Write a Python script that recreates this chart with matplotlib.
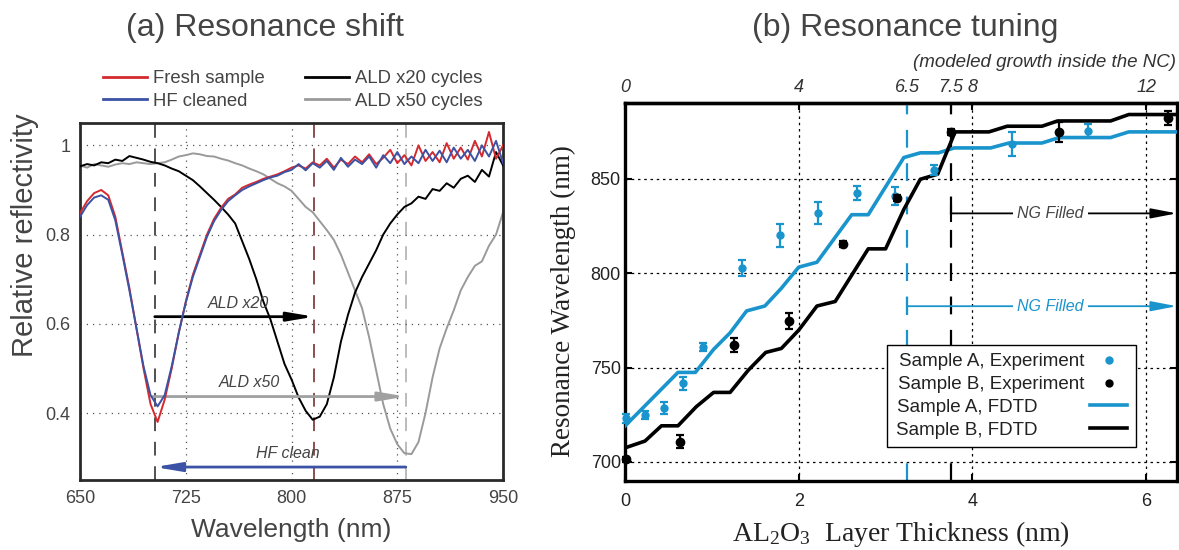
import matplotlib
matplotlib.use('Agg')
import matplotlib.pyplot as plt

plt.rcParams['font.family'] = ['Liberation Sans', 'DejaVu Sans']
plt.rcParams['mathtext.fontset'] = 'custom'
plt.rcParams['mathtext.rm'] = 'Liberation Serif'
plt.rcParams['mathtext.it'] = 'Liberation Serif:italic'

# ---- (a) reflectivity spectra, every 5 nm ----
wl = list(range(650, 951, 5))
fresh = [0.848, 0.875, 0.893, 0.900, 0.888, 0.840, 0.760, 0.680, 0.590, 0.500,
         0.420, 0.380, 0.430, 0.500, 0.580, 0.650, 0.710, 0.755, 0.800, 0.835,
         0.860, 0.880, 0.890, 0.905, 0.912, 0.918, 0.925, 0.930, 0.935, 0.942,
         0.950, 0.955, 0.948, 0.962, 0.955, 0.970, 0.950, 0.968, 0.958, 0.975,
         0.962, 0.980, 0.958, 0.972, 0.990, 0.960, 0.978, 0.955, 1.000, 0.965,
         0.985, 0.962, 1.005, 0.970, 0.995, 0.968, 1.010, 0.975, 1.030, 0.970,
         1.000]
hf_clean = [0.840, 0.866, 0.883, 0.888, 0.878, 0.832, 0.755, 0.675, 0.590, 0.505,
            0.440, 0.415, 0.440, 0.505, 0.580, 0.648, 0.705, 0.750, 0.795, 0.830,
            0.855, 0.875, 0.888, 0.900, 0.908, 0.915, 0.922, 0.928, 0.932, 0.940,
            0.945, 0.958, 0.944, 0.960, 0.950, 0.965, 0.945, 0.972, 0.952, 0.968,
            0.958, 0.975, 0.950, 0.978, 0.960, 0.985, 0.958, 0.975, 0.960, 0.990,
            0.965, 0.988, 0.962, 0.995, 0.970, 0.990, 0.965, 1.000, 0.975, 1.010,
            0.960]
ald20 = [0.953, 0.958, 0.955, 0.962, 0.960, 0.968, 0.965, 0.976, 0.972, 0.968,
         0.963, 0.960, 0.955, 0.948, 0.942, 0.932, 0.922, 0.908, 0.893, 0.878,
         0.862, 0.845, 0.825, 0.785, 0.745, 0.700, 0.650, 0.610, 0.560, 0.510,
         0.475, 0.435, 0.405, 0.385, 0.392, 0.420, 0.480, 0.560, 0.620, 0.670,
         0.705, 0.735, 0.765, 0.800, 0.825, 0.845, 0.862, 0.870, 0.885, 0.880,
         0.902, 0.898, 0.915, 0.905, 0.925, 0.932, 0.918, 0.945, 0.930, 0.985,
         0.955]
ald50 = [0.955, 0.950, 0.958, 0.955, 0.952, 0.957, 0.960, 0.958, 0.962, 0.960,
         0.958, 0.960, 0.962, 0.968, 0.975, 0.978, 0.982, 0.980, 0.976, 0.975,
         0.970, 0.966, 0.960, 0.955, 0.948, 0.942, 0.935, 0.925, 0.915, 0.908,
         0.898, 0.880, 0.862, 0.850, 0.830, 0.810, 0.788, 0.755, 0.715, 0.675,
         0.635, 0.570, 0.495, 0.420, 0.365, 0.330, 0.310, 0.308, 0.335, 0.400,
         0.480, 0.545, 0.590, 0.630, 0.675, 0.705, 0.730, 0.740, 0.775, 0.800,
         0.850]
dips = [703, 816, 881]          # resonance minima: fresh, x20, x50

# ---- (b) resonance tuning ----
fdtd_a_x = [0, 0.61, 0.81, 1.02, 1.21, 1.40, 1.61, 1.80, 2.0, 2.21, 2.61, 2.80,
            3.21, 3.40, 3.61, 3.79, 4.21, 4.42, 4.80, 5.0, 5.59, 5.80, 6.4]
fdtd_a_y = [719, 747.4, 747.4, 759.6, 768.4, 780, 782.6, 792, 803.2, 805.8, 831, 831,
            861.3, 863.8, 863.8, 866.4, 866.4, 869, 869, 871.9, 871.9, 874.9, 874.9]
fdtd_b_x = [0, 0.23, 0.42, 0.61, 0.82, 1.02, 1.21, 1.42, 1.62, 1.80, 2.0, 2.21,
            2.42, 2.80, 3.0, 3.21, 3.40, 3.60, 3.80, 4.19, 4.40, 4.80, 4.98, 5.59,
            5.80, 6.4]
fdtd_b_y = [707.4, 711, 719.1, 719.1, 729.2, 736.8, 736.8, 748.6, 758, 760.1, 769.8, 782.6,
            785, 812.9, 812.9, 833.8, 849.8, 852.5, 874.9, 874.9, 877.9, 877.9, 880.7, 880.7,
            884.1, 884.1]
exp_a_x = [0.01, 0.23, 0.45, 0.67, 0.895, 1.343, 1.785, 2.226, 2.668, 3.11, 3.56, 4.45, 5.33]
exp_a_y = [723, 724.8, 728.6, 741.6, 761, 802.9, 820, 832, 842.6, 840.8, 854.6, 868.4, 875.5]
exp_a_err = [2.6, 2.0, 3.3, 3.5, 2.0, 4.3, 6.2, 5.9, 3.8, 4.7, 2.6, 6.5, 3.5]
exp_b_x = [0.01, 0.633, 1.259, 1.888, 2.506, 3.128, 3.75, 5.0, 6.25]
exp_b_y = [701.3, 710.6, 761.9, 774.8, 815.6, 839.9, 874.9, 874.8, 882.4]
exp_b_err = [1.5, 3.5, 3.5, 4.2, 1.5, 1.5, 1.5, 5.3, 3.8]
filled_a = 3.25
filled_b = 3.75
top_ticks = [0, 4, 6.5, 7.5, 8, 12]
top_labels = ['0', '4', '6.5', '7.5', '8', '12']

red = '#d42a2e'
blue = '#3b52a5'
gray = '#9a9a9a'
cyan = '#1a94cc'
txt = '#444444'

fig = plt.figure(figsize=(11.79, 5.5), dpi=100)

# ================= panel (a) =================
ax = fig.add_axes([0.0679, 0.1273, 0.3588, 0.649])
ax.plot(wl, ald50, color=gray, lw=1.4, zorder=2)
ax.plot(wl, ald20, color='black', lw=1.4, zorder=3)
ax.plot(wl, fresh, color=red, lw=1.4, zorder=4)
ax.plot(wl, hf_clean, color=blue, lw=1.4, zorder=5)
for d, c in zip(dips, ['#222222', '#6b1f1f', '#aaaaaa']):
    ax.axvline(d, color=c, lw=1.1, dashes=(9, 7), zorder=1)
ax.set_xlim(650, 950)
ax.set_ylim(0.25, 1.05)
ax.set_xticks([650, 725, 800, 875, 950])
ax.set_yticks([0.4, 0.6, 0.8, 1.0])
ax.set_yticklabels(['0.4', '0.6', '0.8', '1'])
ax.grid(True, color='#555555', lw=0.9, dashes=(1, 4))
ax.tick_params(length=0, labelsize=13, labelcolor=txt, pad=7)
for s in ax.spines.values():
    s.set_linewidth(2.0)
    s.set_color('#2a2a2a')
ax.set_xlabel('Wavelength (nm)', fontsize=19, color=txt, labelpad=8)
ax.set_ylabel('Relative reflectivity', fontsize=21, color=txt)
ax.yaxis.set_label_coords(-0.098, 0.686)

arrow_kw = dict(arrowstyle='-|>,head_length=1.3,head_width=0.22', mutation_scale=12,
                lw=2, shrinkA=0, shrinkB=0)
ax.annotate('', xy=(dips[1], 0.616), xytext=(dips[0], 0.616),
            arrowprops=dict(color='black', **arrow_kw))
ax.text((dips[0] + dips[1]) / 2 + 3, 0.645, 'ALD x20', fontsize=11.5, style='italic',
        color=txt, ha='center', va='center')
ax.annotate('', xy=(dips[2], 0.437), xytext=(dips[0] - 2, 0.437),
            arrowprops=dict(color='#a0a0a0', **arrow_kw))
ax.text(770, 0.468, 'ALD x50', fontsize=11.5, style='italic', color=txt,
        ha='center', va='center')
ax.annotate('', xy=(dips[0], 0.279), xytext=(dips[2], 0.279),
            arrowprops=dict(color=blue, **arrow_kw))
ax.text(797, 0.31, 'HF clean', fontsize=11.5, style='italic', color=txt,
        ha='center', va='center')

handles = [plt.Line2D([], [], color=red, lw=2), plt.Line2D([], [], color=blue, lw=2),
           plt.Line2D([], [], color='black', lw=2), plt.Line2D([], [], color=gray, lw=2)]
leg = ax.legend(handles, ['Fresh sample', 'HF cleaned', 'ALD x20 cycles', 'ALD x50 cycles'],
                ncol=2, loc='upper left', bbox_to_anchor=(0.054, 1.148), frameon=False,
                fontsize=13.3, handlelength=2.4, handletextpad=0.3, columnspacing=2.2,
                labelspacing=0.3, borderpad=0, borderaxespad=0)
for t in leg.get_texts():
    t.set_color(txt)

# ================= panel (b) =================
bx = fig.add_axes([0.5301, 0.126, 0.468, 0.686])
bx.plot(fdtd_a_x, fdtd_a_y, color=cyan, lw=2.6, zorder=3)
bx.plot(fdtd_b_x, fdtd_b_y, color='black', lw=2.6, zorder=3)
bx.errorbar(exp_a_x, exp_a_y, yerr=exp_a_err, fmt='o', ms=5, color=cyan,
            elinewidth=1.6, capsize=3, capthick=1.6, zorder=4, clip_on=False)
bx.errorbar(exp_b_x, exp_b_y, yerr=exp_b_err, fmt='o', ms=6, color='black',
            elinewidth=1.6, capsize=3, capthick=1.6, zorder=5, clip_on=False)
bx.axvline(filled_a, color=cyan, lw=1.6, dashes=(8, 7), zorder=2)
bx.axvline(filled_b, color='black', lw=1.6, dashes=(8, 7), zorder=2)
bx.set_xlim(0, 6.352)
bx.set_ylim(690, 890)
bx.set_xticks([0, 2, 4, 6])
bx.set_yticks([700, 750, 800, 850])
bx.grid(True, color='black', lw=0.9, dashes=(2, 3))
bx.tick_params(direction='in', length=5, width=1.5, right=True, labelsize=13,
               labelcolor='#222222')
bx.tick_params(axis='x', pad=9)
bx.tick_params(axis='y', pad=3)
for s in bx.spines.values():
    s.set_linewidth(2.4)
bx.set_xlabel(r'AL$_\mathrm{2}$O$_\mathrm{3}$  Layer Thickness (nm)', fontsize=20,
              family='Liberation Serif', color='#222222', labelpad=6)
bx.set_ylabel('Resonance Wavelength (nm)', fontsize=19.5, family='Liberation Serif',
              color='#222222')
bx.yaxis.set_label_coords(-0.088, 0.475)

top = bx.secondary_xaxis('top', functions=(lambda v: v * 2, lambda v: v / 2))
top.set_xticks(top_ticks)
top.set_xticklabels(top_labels, fontstyle='italic')
top.tick_params(direction='in', length=5, width=1.5, labelsize=13, labelcolor='#333333', pad=5)
top.spines['top'].set_linewidth(2.4)

# "NG Filled" ranges
for x0, yv, c in [(filled_b, 831.7, 'black'), (filled_a, 782.5, cyan)]:
    bx.annotate('', xy=(6.352, yv), xytext=(x0, yv),
                arrowprops=dict(arrowstyle='-|>,head_length=1.3,head_width=0.25',
                                mutation_scale=12, color=c, lw=1.3, shrinkA=0, shrinkB=0))
    bx.plot([x0], [yv], marker='|', ms=13, mew=1.5, color=c, zorder=4)
    bx.text(4.9, yv, 'NG Filled', fontsize=11.5, style='italic',
            color=('#444444' if c == 'black' else c), ha='center', va='center',
            bbox=dict(facecolor='white', edgecolor='none', pad=3), zorder=4)

lh = [plt.Line2D([], [], color=cyan, marker='o', ms=5, lw=0),
      plt.Line2D([], [], color='black', marker='o', ms=5, lw=0),
      plt.Line2D([], [], color=cyan, lw=2.6),
      plt.Line2D([], [], color='black', lw=2.6)]
pad = '\u00a0' * 9   # keeps the shorter labels left-aligned with the handles on the right
leg2 = bx.legend(lh, ['Sample A, Experiment', 'Sample B, Experiment',
                      'Sample A, FDTD' + pad, 'Sample B, FDTD' + pad],
                 loc='lower left', bbox_to_anchor=(0.475, 0.089), markerfirst=False,
                 fontsize=13.5, handlelength=2.0, handletextpad=0.3, labelspacing=0.3,
                 borderpad=0.45, borderaxespad=0, fancybox=False, framealpha=1,
                 edgecolor='black')
leg2.get_frame().set_linewidth(1.0)
for t in leg2.get_texts():
    t.set_color('#222222')

# titles
fig.text(265 / 1179, 1 - 28 / 550, '(a) Resonance shift', fontsize=23, color=txt,
         ha='center', va='center')
fig.text(905 / 1179, 1 - 28 / 550, '(b) Resonance tuning', fontsize=23, color=txt,
         ha='center', va='center')
fig.text(1176 / 1179, 1 - 62 / 550, '(modeled growth inside the NC)', fontsize=13.5,
         style='italic', color='#333333', ha='right', va='center')

fig.savefig('out.png', dpi=100)
